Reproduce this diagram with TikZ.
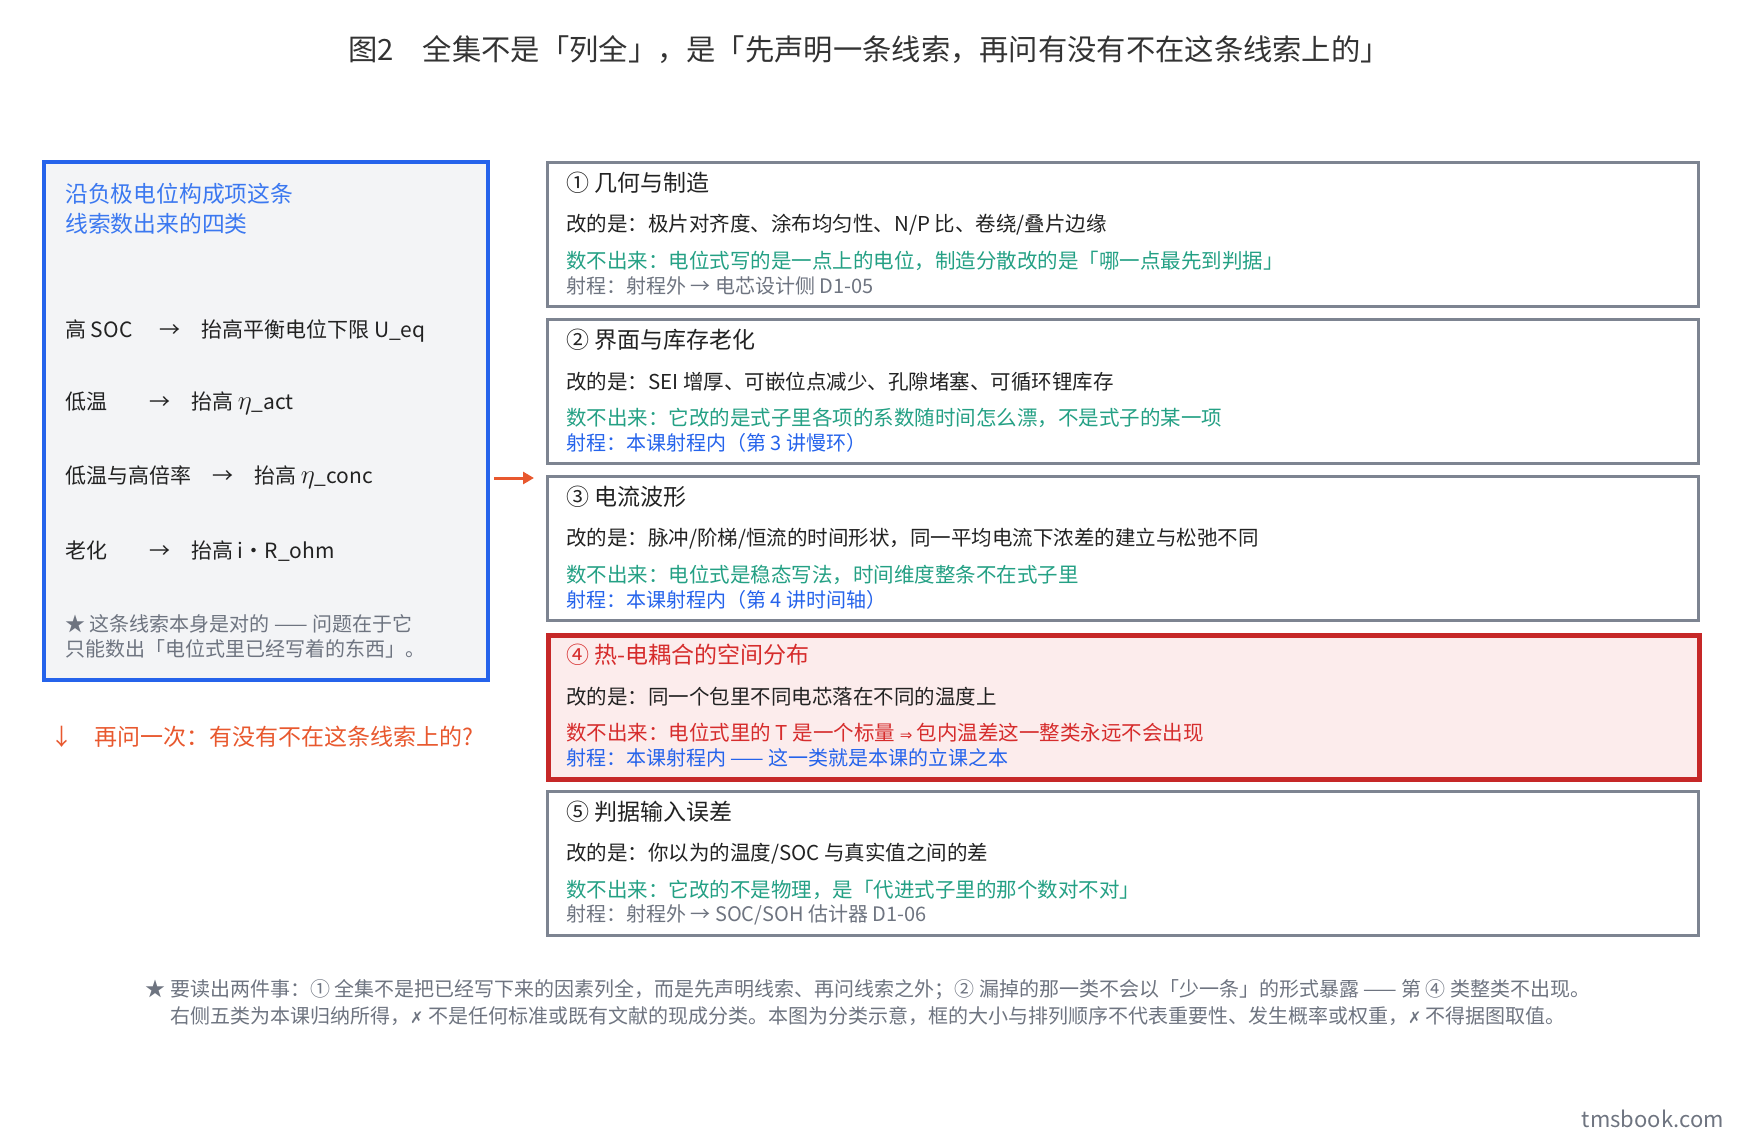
\documentclass[tikz,border=0pt]{standalone}
\usepackage{fontspec}
\setmainfont{Noto Sans CJK SC}
\newfontfamily\symfont{DejaVu Sans}
\usetikzlibrary{arrows.meta}

\definecolor{inkdark}{RGB}{34,34,34}
\definecolor{titleink}{RGB}{51,51,51}
\definecolor{boxgray}{RGB}{125,132,145}
\definecolor{greyink}{RGB}{110,116,128}
\definecolor{panelfill}{RGB}{243,244,246}
\definecolor{clueblue}{RGB}{37,99,235}
\definecolor{lightblue}{RGB}{59,120,240}
\definecolor{countgreen}{RGB}{36,160,132}
\definecolor{hotred}{RGB}{198,40,40}
\definecolor{hotink}{RGB}{214,44,44}
\definecolor{hotfill}{RGB}{252,236,236}
\definecolor{askorange}{RGB}{232,88,46}

\begin{document}
\begin{tikzpicture}[x=1pt, y=-1pt,
	catbox/.style={draw=boxgray, line width=2.5pt, minimum width=1151pt, minimum height=144pt, anchor=north west, inner sep=0pt},
	hotbox/.style={catbox, draw=hotred, fill=hotfill, line width=5pt},
	panel/.style={draw=clueblue, fill=panelfill, line width=3.5pt, minimum width=444pt, minimum height=518pt, anchor=north west, inner sep=0pt},
	line/.style={anchor=west, inner sep=0pt, text=inkdark, font=\fontsize{20.5}{24}\selectfont},
	rangeline/.style={line, font=\fontsize{20}{24}\selectfont},
	boxhead/.style={line, font=\fontsize{23}{28}\selectfont},
	rowline/.style={line, font=\fontsize{21}{26}\selectfont},
	noteline/.style={line, text=greyink, align=left, font=\fontsize{20}{25}\selectfont},
	footline/.style={inner sep=0pt, text=greyink, font=\fontsize{20}{26}\selectfont},
	flow/.style={draw=askorange, line width=3pt, -{Triangle[length=11pt, width=12pt]}}]
		\useasboundingbox (0,0) rectangle (1740,1140);
		
		\node[inner sep=0pt, text=titleink, font=\fontsize{29.3}{34}\selectfont] (title) at (869,50) {图2　全集不是「列全」，是「先声明一条线索，再问有没有不在这条线索上的」};
		
		% left panel
		\node[panel] (left) at (42,160) {};
		\node[line, align=left, text=lightblue, font=\fontsize{22.8}{30}\selectfont] (lt) at (65,209) {沿负极电位构成项这条\\线索数出来的四类};
		\node[rowline] (r1) at (65,331) {高 SOC\hspace{27pt}→\hspace{21pt}抬高平衡电位下限 U\_eq};
		\node[rowline] (r2) at (65,403) {低温\hspace{42pt}→\hspace{21pt}抬高 \scalebox{1.3}{$\eta$}\_act};
		\node[rowline] (r3) at (65,477) {低温与高倍率\hspace{21pt}→\hspace{21pt}抬高 \scalebox{1.3}{$\eta$}\_conc};
		\node[rowline] (r4) at (65,551) {老化\hspace{42pt}→\hspace{21pt}抬高 i・R\_ohm};
		\node[noteline] (ln) at (65,636) {★ 这条线索本身是对的 —— 问题在于它\\只能数出「电位式里已经写着的东西」。};
		\node[line, text=askorange, font=\fontsize{23}{26}\selectfont] (ask) at (50,737) {↓\hspace{21pt}再问一次：有没有不在这条线索上的?};
		
		\coordinate (a1) at (494,478);
		\coordinate (a2) at (534,478);
		\draw[flow] (a1) -- (a2);
		
		% five classes
		\node[catbox] (b1) at (546,161) {};
		\node[boxhead] (h1) at (566,183) {① 几何与制造};
		\node[line] (c1) at (566,225) {改的是：极片对齐度、涂布均匀性、N/P 比、卷绕/叠片边缘};
		\node[line, text=countgreen] (n1) at (566,261) {数不出来：电位式写的是一点上的电位，制造分散改的是「哪一点最先到判据」};
		\node[rangeline, text=greyink] (s1) at (566,286) {射程：射程外 → 电芯设计侧 D1-05};
		
		\node[catbox] (b2) at (546,318) {};
		\node[boxhead] (h2) at (566,340) {② 界面与库存老化};
		\node[line] (c2) at (566,382) {改的是：SEI 增厚、可嵌位点减少、孔隙堵塞、可循环锂库存};
		\node[line, text=countgreen] (n2) at (566,418) {数不出来：它改的是式子里各项的系数随时间怎么漂，不是式子的某一项};
		\node[rangeline, text=clueblue] (s2) at (566,443) {射程：本课射程内（第 3 讲慢环）};
		
		\node[catbox] (b3) at (546,475) {};
		\node[boxhead] (h3) at (566,497) {③ 电流波形};
		\node[line] (c3) at (566,539) {改的是：脉冲/阶梯/恒流的时间形状，同一平均电流下浓差的建立与松弛不同};
		\node[line, text=countgreen] (n3) at (566,575) {数不出来：电位式是稳态写法，时间维度整条不在式子里};
		\node[rangeline, text=clueblue] (s3) at (566,600) {射程：本课射程内（第 4 讲时间轴）};
		
		\node[hotbox] (b4) at (546,633) {};
		\node[boxhead, text=hotink] (h4) at (566,655) {④ 热-电耦合的空间分布};
		\node[line] (c4) at (566,697) {改的是：同一个包里不同电芯落在不同的温度上};
		\node[line, text=hotink] (n4) at (566,733) {数不出来：电位式里的 T 是一个标量 {\symfont\fontsize{15}{20}\selectfont ⇒} 包内温差这一整类永远不会出现};
		\node[rangeline, text=clueblue] (s4) at (566,758) {射程：本课射程内 —— 这一类就是本课的立课之本};
		
		\node[catbox] (b5) at (546,790) {};
		\node[boxhead] (h5) at (566,812) {⑤ 判据输入误差};
		\node[line] (c5) at (566,854) {改的是：你以为的温度/SOC 与真实值之间的差};
		\node[line, text=countgreen] (n5) at (566,890) {数不出来：它改的不是物理，是「代进式子里的那个数对不对」};
		\node[rangeline, text=greyink] (s5) at (566,915) {射程：射程外 → SOC/SOH 估计器 D1-06};
		
		\node[footline] (f1) at (868,990) {★ 要读出两件事：① 全集不是把已经写下来的因素列全，而是先声明线索、再问线索之外；② 漏掉的那一类不会以「少一条」的形式暴露 —— 第 ④ 类整类不出现。};
		\node[footline] (f2) at (868,1016) {右侧五类为本课归纳所得，{\symfont\fontsize{16}{20}\selectfont ✗} 不是任何标准或既有文献的现成分类。本图为分类示意，框的大小与排列顺序不代表重要性、发生概率或权重，{\symfont\fontsize{16}{20}\selectfont ✗} 不得据图取值。};
		
		\node[inner sep=0pt, anchor=east, text=greyink, font=\fontsize{22}{26}\selectfont] (wm) at (1724,1119) {tmsbook.com};
		
	\end{tikzpicture}
\end{document}
